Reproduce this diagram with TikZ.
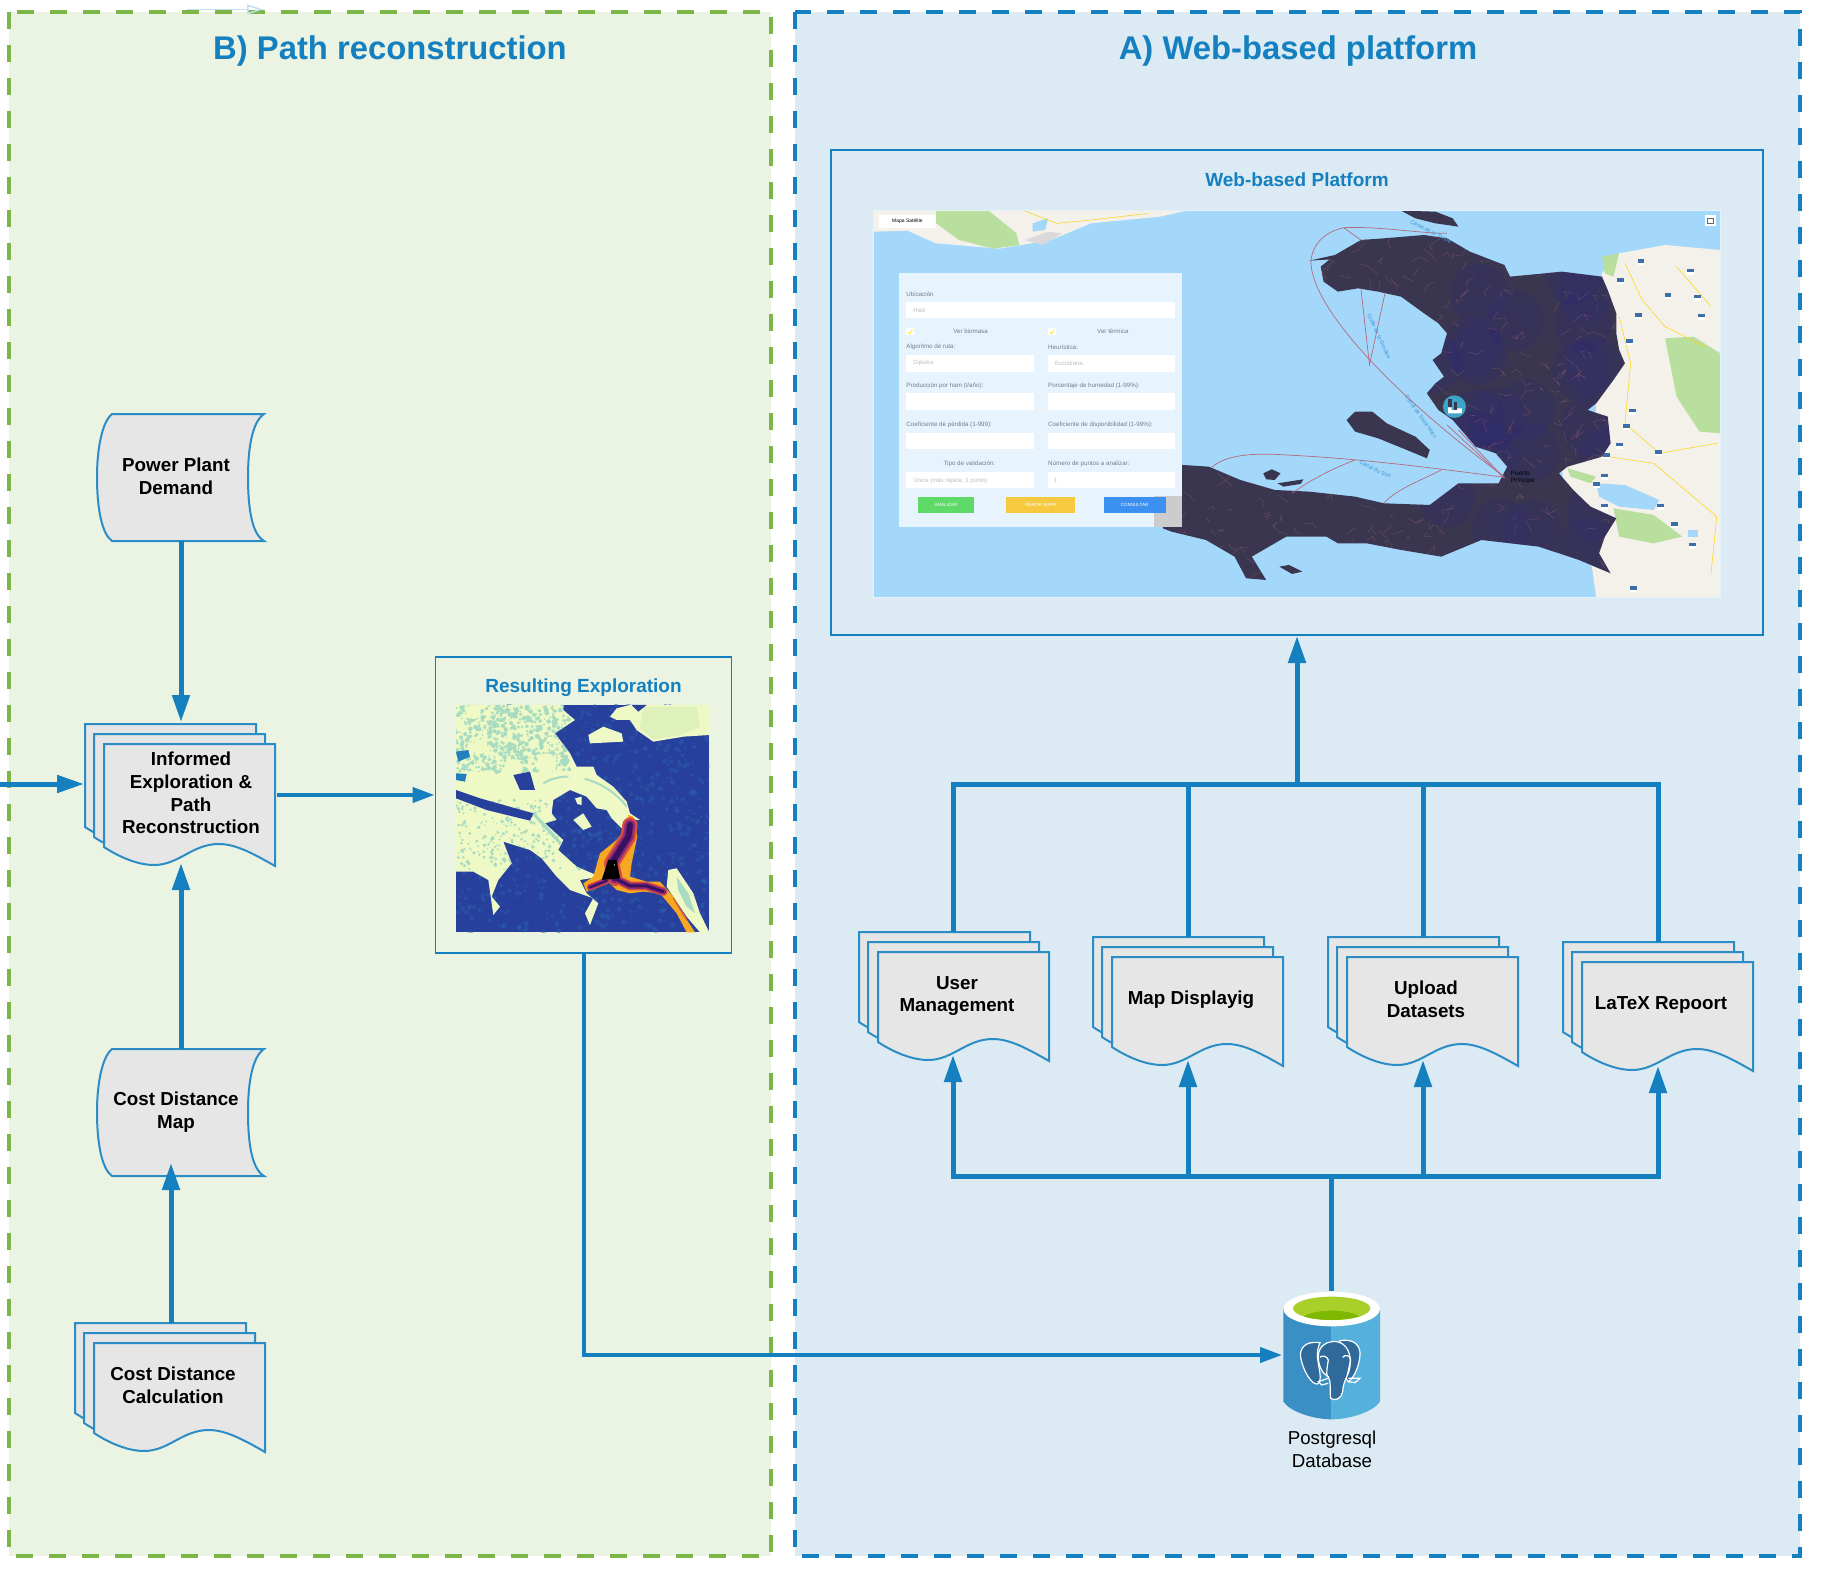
\documentclass[tikz,border=0pt]{standalone}
\usepackage{fontspec}
\setmainfont{Liberation Sans}
\usetikzlibrary{arrows.meta}
\definecolor{lineblue}{HTML}{1480C0}
\definecolor{panelgreen}{HTML}{EBF3E3}
\definecolor{dashgreen}{HTML}{7CB548}
\definecolor{panelblue}{HTML}{DBEAF3}
\definecolor{docfill}{HTML}{E6E6E6}
\definecolor{water}{HTML}{A3D8FB}
\definecolor{isl}{HTML}{3A3650}
\definecolor{land}{HTML}{F3F1EA}
\definecolor{parkgreen}{HTML}{B8DF9E}
\definecolor{route}{HTML}{B56A7C}
\definecolor{formbg}{HTML}{E7F4FE}
\definecolor{formtxt}{HTML}{6F7F88}
\definecolor{ylA}{HTML}{27409B}
\definecolor{ylB}{HTML}{EEF9C6}
\definecolor{ylC}{HTML}{A8DCC0}
\definecolor{ylD}{HTML}{2A5FAE}
\definecolor{plA}{HTML}{F7A823}
\definecolor{plB}{HTML}{D8503C}
\definecolor{plC}{HTML}{8E2A78}
\definecolor{plD}{HTML}{3A1160}
\definecolor{plE}{HTML}{E8682C}
\definecolor{dbL}{HTML}{3A8FC4}
\definecolor{dbR}{HTML}{56B0DC}
\definecolor{limeA}{HTML}{A9CF2A}
\definecolor{limeB}{HTML}{7EB800}
\definecolor{eleph}{HTML}{2F6A9B}
\definecolor{btnG}{HTML}{5FD968}
\definecolor{btnY}{HTML}{F7C93E}
\definecolor{btnB}{HTML}{3C90F0}
\definecolor{marker}{HTML}{3EA4C8}
\definecolor{shield}{HTML}{3C6EA8}
\tikzset{
  panelB/.style={fill=panelgreen,draw=dashgreen,line width=4pt,dash pattern=on 17pt off 16pt},
  panelA/.style={fill=panelblue,draw=lineblue,line width=4pt,dash pattern=on 17pt off 16pt},
  frame/.style={draw=lineblue,line width=1.9pt},
  docstyle/.style={fill=docfill,draw=lineblue!90!white,line width=2pt,line join=miter},
  doctext/.style={font=\fontsize{18.8}{22.7}\selectfont\bfseries,align=center,text=black,inner sep=0pt},
  titletext/.style={font=\fontsize{32.8}{36}\selectfont\bfseries,text=lineblue,inner sep=0pt},
  boxtitle/.style={font=\fontsize{19}{23}\selectfont\bfseries,text=lineblue,inner sep=0pt},
  dbtext/.style={font=\fontsize{18.7}{22.7}\selectfont,align=center,text=black,inner sep=0pt},
  flow/.style={draw=lineblue,line width=5pt,-{Triangle[length=27pt,width=17pt]}},
  flowthin/.style={draw=lineblue,line width=4pt,-{Triangle[length=22pt,width=15pt]}},
  bus/.style={draw=lineblue,line width=5pt,line join=miter},
  flbl/.style={font=\fontsize{6.2}{7}\selectfont,text=formtxt,inner sep=0pt,anchor=west},
  fval/.style={font=\fontsize{6}{7}\selectfont,text=formtxt!50!white,inner sep=0pt,anchor=west},
  fbtn/.style={font=\fontsize{4.6}{6}\selectfont,text=white,inner sep=0pt},
  wlbl/.style={font=\fontsize{5.6}{7}\selectfont,text=lineblue!70!water,inner sep=0pt},
  field/.style={fill=white,draw=none},
}
\newcommand{\docpath}[3]{%
  \begin{scope}[shift={(#1,#2)}]
  \filldraw[docstyle] (0,0) -- (171,0) -- (171,#3+19)
    .. controls (150,#3+7) and (132,#3-3) .. (115,#3-3)
    .. controls (88,#3-3) and (75,#3+18) .. (50,#3+18)
    .. controls (34,#3+18) and (15,#3+10) .. (0,#3) -- cycle;
  \end{scope}}
\newcommand{\docstack}[3]{%
  \docpath{#1-19}{#2-20}{#3}\docpath{#1-10}{#2-10}{#3}\docpath{#1}{#2}{#3}}
\newcommand{\storedshape}[2]{%
  \begin{scope}[shift={(#1,#2)}]
  \filldraw[docstyle] (15,0) -- (167,0) .. controls (155,8) and (151,35) .. (151,63)
    .. controls (151,95) and (155,120) .. (167,127) -- (15,127)
    .. controls (5,120) and (0,95) .. (0,63) .. controls (0,35) and (5,8) .. (15,0) -- cycle;
  \end{scope}}
\begin{document}
\begin{tikzpicture}[x=1pt,y=-1pt]
\useasboundingbox (0,0) rectangle (1821,1573);
\pgfmathsetseed{4217}
% panels
\path[panelB] (9,12) rectangle (771,1556);
\path[panelA] (795,12) rectangle (1800,1556);
\node[titletext] (titleB) at (390,51) {B) Path reconstruction};
\node[titletext] (titleA) at (1298,51) {A) Web-based platform};
% faint stray arrow at the top
\coordinate (strayA) at (187,9.5);
\coordinate (strayB) at (263,9.5);
\draw[draw=lineblue!25!white,line width=1.5pt,-{Triangle[length=16pt,width=10pt,open]}] (strayA) -- (strayB);

% Web platform frame
\node[frame,fill=none,minimum width=932pt,minimum height=485pt,inner sep=0pt] (web) at (1297,392.5) {};
\node[boxtitle] (webtitle) at (1297,180) {Web-based Platform};

% === screenshot of the platform ===
\begin{scope}[shift={(850,190)},x=0.574pt,y=-0.3333pt]
\clip (42,60) rectangle (1516,1222);
\fill[water] (42,60) rectangle (1516,1222);
% Cuba
\fill[land] (42,60) -- (592,60) -- (540,80) -- (420,100) -- (350,150) -- (260,176) -- (150,160) -- (100,122) -- (42,125) -- cycle;
\fill[parkgreen] (150,60) -- (240,60) -- (290,130) -- (295,165) -- (250,176) -- (190,150) -- (150,100) -- cycle;
\fill[water] (318,100) -- (345,85) -- (340,120) -- (318,125) -- cycle;
\fill[gray!30] (305,150) -- (345,125) -- (370,130) -- (335,165) -- cycle;
\draw[yellow!70!orange,line width=.5pt] (300,60) -- (360,100) -- (420,90) -- (520,70);
% Dominican side
\fill[land] (1516,180) -- (1420,165) -- (1340,190) -- (1310,250) -- (1300,400) -- (1300,660) -- (1240,830) -- (1250,980) -- (1290,1100) -- (1300,1222) -- (1516,1222) -- cycle;
\fill[parkgreen] (1420,445) -- (1470,440) -- (1516,490) -- (1516,730) -- (1480,725) -- (1440,620) -- cycle;
\fill[parkgreen] (1310,200) -- (1340,190) -- (1330,260) -- (1315,250) -- cycle;
\fill[parkgreen] (1330,955) -- (1400,975) -- (1450,1040) -- (1400,1060) -- (1340,1040) -- cycle;
\fill[parkgreen] (1250,835) -- (1300,860) -- (1290,880) -- (1255,860) -- cycle;
\fill[water] (1300,880) -- (1350,885) -- (1410,930) -- (1400,960) -- (1340,950) -- (1305,920) -- cycle;
\fill[water] (1460,1020) -- (1478,1020) -- (1478,1040) -- (1460,1040) -- cycle;
\draw[yellow!75!orange,line width=.5pt] (1350,220) -- (1380,330) -- (1420,410) -- (1490,470);
\draw[yellow!75!orange,line width=.5pt] (1340,380) -- (1360,520) -- (1350,700) -- (1410,790) -- (1510,760);
\draw[yellow!75!orange,line width=.5pt] (1320,800) -- (1400,820) -- (1510,980) -- (1500,1150);
\draw[yellow!75!orange,line width=.5pt] (1440,230) -- (1500,350);
\foreach \sx/\sy in {1378/216,1465/245,1342/274,1425/318,1477/323,1373/378,1484/380,1358/457,1335/500,1363/665,1352/712,1340/767,1408/790,1315/860,1300/885,1315/950,1412/950,1436/1005,1468/1067,1365/1198,1318/798}
  {\fill[shield] (\sx-6,\sy-9) rectangle (\sx+6,\sy+9);
   \fill[white] (\sx-6,\sy+2) rectangle (\sx+6,\sy+9);}
% Haiti
\path[save path=\haitipath] (820,230) -- (845,195) -- (890,150) -- (930,145) -- (1000,135) -- (1040,145) -- (1080,185) -- (1140,225) -- (1150,260) -- (1240,245) -- (1310,260) -- (1320,300) -- (1335,370) -- (1335,430) -- (1340,480) -- (1350,520) -- (1330,570) -- (1300,640) -- (1285,660) -- (1320,680) -- (1325,760) -- (1310,800) -- (1250,830) -- (1235,850) -- (1260,900) -- (1290,950) -- (1335,985) -- (1315,1040) -- (1305,1090) -- (1325,1150) -- (1270,1110) -- (1200,1070) -- (1100,1050) -- (1030,1100) -- (960,1080) -- (900,1060) -- (850,1060) -- (830,1040) -- (760,1040) -- (700,1100) -- (725,1170) -- (690,1165) -- (670,1100) -- (620,1050) -- (560,1025) -- (545,1015) -- (560,830) -- (580,825) -- (625,830) -- (680,870) -- (740,900) -- (800,905) -- (880,920) -- (930,940) -- (1010,945) -- (1060,880) -- (1130,880) -- (1145,830) -- (1125,790) -- (1090,770) -- (1050,690) -- (1025,660) -- (1005,610) -- (1020,580) -- (1035,560) -- (1015,510) -- (1030,490) -- (1040,430) -- (1025,400) -- (1000,370) -- (960,320) -- (920,305) -- (885,295) -- (850,305) -- (825,275) -- cycle;
\fill[isl,use path=\haitipath];
\begin{scope}
\clip[use path=\haitipath];
\foreach \i in {1,...,24}{
  \pgfmathsetmacro\ax{950+rnd*380}
  \pgfmathsetmacro\ay{200+rnd*880}
  \fill[blue!35!isl,opacity=.14] (\ax,\ay) ellipse (50 and 90);}
\foreach \i in {1,...,420}{
  \pgfmathsetmacro\ax{550+rnd*800}
  \pgfmathsetmacro\ay{140+rnd*1030}
  \pgfmathsetmacro\bx{\ax+(rnd-.5)*34}
  \pgfmathsetmacro\by{\ay+(rnd-.5)*50}
  \pgfmathsetmacro\cx{\bx+(rnd-.5)*30}
  \pgfmathsetmacro\cy{\by+(rnd-.5)*44}
  \draw[route!50!isl,line width=.3pt] (\ax,\ay) -- (\bx,\by) -- (\cx,\cy);}
\end{scope}
\fill[isl] (865,690) -- (880,665) -- (910,665) -- (935,700) -- (985,740) -- (1010,780) -- (1005,805) -- (970,780) -- (920,745) -- (880,725) -- cycle;
\fill[isl] (960,62) -- (1020,65) -- (1050,85) -- (1060,110) -- (1020,100) -- (985,85) -- cycle;
\fill[isl] (720,850) -- (735,838) -- (750,850) -- (740,870) -- (725,868) -- cycle;
\fill[isl] (745,880) -- (790,868) -- (785,882) -- (755,890) -- cycle;
\fill[isl] (748,1130) -- (765,1125) -- (788,1145) -- (770,1152) -- cycle;
\fill[isl] (800,212) -- (845,195) -- (840,208) -- cycle;
% routes
\begin{scope}[route,line width=.7pt]
\draw (1140,860) .. controls (950,620) and (800,350) .. (803,210) .. controls (808,150) and (835,122) .. (860,113) .. controls (920,108) and (990,130) .. (1040,130);
\draw (860,113) -- (890,150);
\draw (890,295) -- (905,525) -- (932,310);
\draw (1140,865) -- (1040,705);
\draw (1140,865) -- (1060,720);
\draw (630,832) .. controls (655,795) and (700,788) .. (760,795) .. controls (880,805) and (1000,830) .. (1140,862);
\draw (770,910) .. controls (810,860) and (850,830) .. (880,810);
\draw (930,940) .. controls (950,900) and (990,875) .. (1030,840);
\end{scope}
% water labels
\node[wlbl,rotate=-27] (wl1) at (1012,125) {Canal de la Tortue};
\node[wlbl,rotate=-65] (wl2) at (922,440) {Golfe de la Gonâve};
\node[wlbl,rotate=-55] (wl3) at (995,680) {Canal de Saint-Marc};
\node[wlbl,rotate=-25] (wl4) at (915,838) {Canal du Sud};
\node[font=\fontsize{6.5}{7}\selectfont,text=black,inner sep=0pt,align=left] (pap) at (1172,862) {Puerto\\Príncipe};
% factory marker
\fill[marker] (1053,650) ellipse (20 and 34);
\fill[white] (1042,670) -- (1042,652) -- (1048,652) -- (1048,660) -- (1056,660) -- (1056,655) -- (1066,655) -- (1066,670) -- cycle;
\fill[isl] (1042,652) rectangle (1048,628);
\fill[isl] (1052,660) rectangle (1058,635);
% map controls
\fill[white] (50,75) rectangle (150,115);
\node[font=\fontsize{5}{6}\selectfont,text=black,inner sep=0pt] (mapctl) at (100,95) {Mapa Satélite};
\fill[white] (1490,76) rectangle (1508,108);
\draw[black!60,line width=.5pt] (1494,84) rectangle (1504,100);
% form
\fill[gray!40] (530,830) rectangle (578,1010);
\fill[formbg] (86,248) rectangle (578,1010);
\fill[gray!40] (530,918) rectangle (578,1010);
\fill[field] (98,335) rectangle (566,385);
\fill[field] (98,495) rectangle (320,545);
\fill[field] (345,495) rectangle (566,545);
\fill[field] (98,610) rectangle (320,660);
\fill[field] (345,610) rectangle (566,660);
\fill[field] (98,728) rectangle (320,778);
\fill[field] (345,728) rectangle (566,778);
\fill[field] (98,847) rectangle (320,895);
\fill[field] (345,847) rectangle (566,895);
\fill[white] (98,414) rectangle (112,436);
\fill[white] (345,414) rectangle (358,436);
\draw[yellow!80!orange,line width=.6pt] (101,426) -- (104,432) -- (109,418);
\draw[yellow!80!orange,line width=.6pt] (348,426) -- (351,432) -- (356,418);
\node[flbl] (f1) at (98,312) {Ubicación};
\node[fval] (f2) at (110,360) {Haiti};
\node[flbl,anchor=center] (f3) at (210,424) {Ver biomasa};
\node[flbl,anchor=center] (f4) at (458,424) {Ver térmica};
\node[flbl] (f5) at (98,471) {Algoritmo de ruta:};
\node[flbl] (f6) at (345,471) {Heurística:};
\node[fval] (f7) at (110,520) {Dijkstra};
\node[fval] (f8) at (357,520) {Euclidiana};
\node[flbl] (f9) at (98,587) {Producción por ham (t/año):};
\node[flbl] (f10) at (345,587) {Porcentaje de humedad (1-99\%):};
\node[flbl] (f11) at (98,705) {Coeficiente de pérdida (1-999):};
\node[flbl] (f12) at (345,705) {Coeficiente de disponibilidad (1-99\%):};
\node[flbl,anchor=center] (f13) at (208,823) {Tipo de validación:};
\node[flbl] (f14) at (345,823) {Número de puntos a analizar:};
\node[fval] (f15) at (110,872) {Única (más rápida, 1 punto)};
\node[fval] (f16) at (355,872) {1};
\fill[btnG] (118,920) rectangle (216,970);
\fill[btnY] (272,920) rectangle (392,970);
\fill[btnB] (442,920) rectangle (550,970);
\node[fbtn] (b1) at (167,945) {ANALIZAR};
\node[fbtn] (b2) at (332,945) {AÑADIR MAPA};
\node[fbtn] (b3) at (496,945) {CONSULTAR};
\end{scope}
\draw[white!70!water,line width=.8pt] (873.5,210) rectangle (1720,597.5);

% Resulting exploration frame
\node[frame,fill=none,minimum width=296pt,minimum height=296pt,inner sep=0pt] (result) at (583.5,805) {};
\node[boxtitle] (resulttitle) at (583.5,688) {Resulting Exploration};
\begin{scope}[shift={(430,650)},x=0.3333pt,y=-0.3333pt]
\clip (78,165) rectangle (838,847);
\fill[ylA] (78,165) rectangle (838,847);
\foreach \i in {1,...,800}{
  \pgfmathsetmacro\ax{78+rnd*760}
  \pgfmathsetmacro\ay{165+rnd*682}
  \pgfmathsetmacro\rr{3+rnd*5}
  \fill[ylD,opacity=.5] (\ax,\ay) circle (\rr);}
\path[save path=\landpath] (78,165) -- (400,165) -- (400,180) -- (435,210) -- (375,250) -- (420,310) -- (440,350) -- (490,350) -- (500,375) -- (550,410) -- (590,455) -- (600,490) -- (630,510) -- (590,510) -- (580,540) -- (545,505) -- (530,480) -- (500,475) -- (470,440) -- (420,420) -- (370,450) -- (365,490) -- (380,510) -- (345,520) -- (400,570) -- (385,600) -- (440,650) -- (510,680) -- (450,690) -- (470,730) -- (505,760) -- (480,825) -- (465,790) -- (490,745) -- (420,720) -- (380,680) -- (335,625) -- (300,600) -- (220,575) -- (245,640) -- (205,690) -- (185,740) -- (210,770) -- (190,795) -- (175,690) -- (130,665) -- (78,665) -- cycle;
\fill[ylB,use path=\landpath];
\begin{scope}
\clip[use path=\landpath];
\foreach \i in {1,...,650}{
  \pgfmathsetmacro\ax{78+rnd*340}
  \pgfmathsetmacro\ay{165+rnd*200}
  \pgfmathsetmacro\rr{2+rnd*5}
  \fill[ylC] (\ax,\ay) circle (\rr);}
\foreach \i in {1,...,260}{
  \pgfmathsetmacro\ax{78+rnd*320}
  \pgfmathsetmacro\ay{450+rnd*210}
  \pgfmathsetmacro\rr{2+rnd*4}
  \fill[ylC] (\ax,\ay) circle (\rr);}
\draw[ylC,line width=2pt] (340,400) .. controls (420,350) and (540,400) .. (590,470);
\draw[ylC,line width=3pt] (310,490) -- (400,590) -- (450,660);
\foreach \bx/\by/\br in {130/185/22,90/220/14,150/290/22,350/340/30,250/355/28,440/380/25,130/510/22,180/540/20,300/660/12}
  {\fill[ylB] (\bx,\by) circle (\br);}
\end{scope}
\fill[ylA] (78,420) -- (150,445) -- (310,490) -- (300,512) -- (170,480) -- (78,445) -- cycle;
\fill[ylA] (250,375) -- (300,365) -- (315,420) -- (270,420) -- cycle;
\fill[ylD!80!cyan] (78,305) -- (115,300) -- (120,320) -- (85,335) -- cycle;
\fill[ylD!80!cyan] (78,370) -- (110,372) -- (105,395) -- (78,390) -- cycle;
% pale spots
\fill[ylB] (540,200) -- (560,175) -- (600,165) -- (838,165) -- (838,255) -- (760,260) -- (670,275) -- (620,240) -- (600,210) -- (560,210) -- cycle;
\fill[ylB!70!parkgreen] (640,170) -- (800,170) -- (810,230) -- (750,255) -- (670,268) -- (630,235) -- cycle;
\fill[ylA] (605,165) -- (650,165) -- (625,185) -- cycle;
\fill[ylB] (475,255) -- (520,230) -- (575,250) -- (580,275) -- (480,280) -- cycle;
\fill[ylB] (430,510) -- (460,490) -- (485,530) -- (460,540) -- cycle;
\fill[ylB] (435,445) -- (455,440) -- (455,465) -- (442,462) -- cycle;
\fill[ylB] (715,660) -- (740,655) -- (790,730) -- (810,790) -- (838,847) -- (810,847) -- (770,800) -- (710,710) -- cycle;
\fill[ylC] (740,680) -- (775,730) -- (795,790) -- (770,770) -- (745,720) -- cycle;
% accumulated-cost plume
\fill[plA] (595,495) -- (610,500) -- (622,560) -- (605,640) -- (600,680) -- (650,695) -- (690,695) -- (730,740) -- (745,770) -- (795,847) -- (770,847) -- (740,790) -- (690,730) -- (640,725) -- (600,730) -- (560,720) -- (530,690) -- (470,725) -- (460,700) -- (490,680) -- (510,610) -- (560,570) -- (590,530) -- cycle;
\begin{scope}[line join=round,line cap=round]
\foreach \w/\tw/\lw/\c in {46/26/20/plB,32/18/13/plC,18/9/6/plD}{
  \draw[\c,line width=\w*.3333pt] (600,525) -- (595,560) -- (570,600) -- (545,640) -- (555,685);
  \draw[\c,line width=\tw*.3333pt] (555,685) -- (600,708) -- (650,708) -- (700,725);
  \draw[\c,line width=\lw*.3333pt] (480,712) -- (530,692);
}
\draw[plE,line width=1.5pt] (730,745) -- (770,810);
\fill[black] (535,630) -- (560,630) -- (570,685) -- (515,690) -- cycle;
\fill[white] (553,645) circle (2);
\end{scope}
\end{scope}

% document shapes
\storedshape{97}{414}
\node[doctext] (power) at (176,476) {Power Plant\\Demand};
\storedshape{97}{1049}
\node[doctext] (costmap) at (176,1112) {Cost Distance\\Map};
\docstack{104}{744}{103}
\node[doctext] (informed) at (191,793) {Informed\\Exploration \&\\Path\\Reconstruction};
\docstack{94}{1343}{90}
\node[doctext] (costcalc) at (173,1385) {Cost Distance\\Calculation};
\docstack{878}{952}{90}
\node[doctext] (user) at (957,996) {User\\Management};
\docstack{1112}{957}{90}
\node[doctext] (mapd) at (1191,1000) {Map Displayig};
\docstack{1347}{957}{90}
\node[doctext] (upload) at (1426,999) {Upload\\Datasets};
\docstack{1582}{962}{90}
\node[doctext] (latex) at (1661,1005) {LaTeX Repoort};

% database
\begin{scope}[shift={(1240,1270)},x=0.3333pt,y=-0.3333pt]
\fill[dbL] (130,115) -- (130,395) .. controls (150,425) and (220,448) .. (275,448) -- (275,115) -- cycle;
\fill[dbR] (275,115) -- (420,115) -- (420,395) .. controls (400,425) and (330,448) .. (275,448) -- cycle;
\fill[white] (275,117) ellipse (145 and 52);
\fill[limeA] (275,115) ellipse (116 and 35);
\begin{scope}
\clip (275,115) ellipse (116 and 35);
\fill[limeB] (275,150) ellipse (90 and 28);
\end{scope}
\begin{scope}[draw=white,fill=eleph,line width=1.2pt]
\filldraw (240,218) .. controls (195,212) and (178,235) .. (182,262) .. controls (188,300) and (215,345) .. (232,342) .. controls (250,335) and (235,290) .. (232,260) .. controls (232,240) and (235,230) .. (240,218) -- cycle;
\filldraw (300,212) .. controls (340,205) and (362,225) .. (360,255) .. controls (358,285) and (345,320) .. (325,335) -- (300,300) -- cycle;
\filldraw (235,260) .. controls (235,225) and (265,212) .. (290,215) .. controls (320,220) and (335,250) .. (330,290) .. controls (325,320) and (310,330) .. (308,365) .. controls (305,385) and (285,395) .. (272,385) .. controls (268,360) and (275,340) .. (265,320) .. controls (245,310) and (235,285) .. (235,260) -- cycle;
\draw (240,262) .. controls (245,255) and (262,258) .. (265,270) .. controls (262,290) and (258,305) .. (262,322);
\draw (308,262) .. controls (315,252) and (332,256) .. (332,270) -- (322,315);
\draw (265,325) -- (235,335) -- (245,345) -- (265,340);
\draw (325,325) -- (360,325) -- (345,338) -- (325,335);
\end{scope}
\end{scope}
\node[dbtext] (dblabel) at (1332,1449) {Postgresql\\Database};

% connector anchors
\coordinate (db) at (1331.5,1291);
\coordinate (dbIn) at (1282,1355);
\coordinate (leftIn) at (0,784);
\coordinate (powerB) at (181,541);
\coordinate (informedT) at (181,722);
\coordinate (informedB) at (181,863);
\coordinate (informedL) at (84,784);
\coordinate (informedR) at (277,795);
\coordinate (costmapT) at (181,1049);
\coordinate (costmapB) at (171,1163);
\coordinate (costcalcT) at (171,1323);
\coordinate (userT) at (953,932);
\coordinate (mapdT) at (1188,937);
\coordinate (uploadT) at (1423,937);
\coordinate (latexT) at (1658,942);
\coordinate (userB) at (953,1055);
\coordinate (mapdB) at (1188,1060);
\coordinate (uploadB) at (1423,1060);
\coordinate (latexB) at (1658,1066);
\coordinate (webB) at (1297,636);
\coordinate (junction) at (1297,784);
\coordinate (dbJoin) at (1331.5,1176);

% connectors
\draw[flow] (powerB) -- (informedT);
\draw[flow] (costmapT) -- (informedB);
\draw[flow] (costcalcT) -- (costmapB);
\draw[flow] (leftIn) -- (informedL);
\draw[flowthin] (informedR) -- (informedR -| result.west);
\draw[flowthin] (result.south) |- (dbIn);
\draw[flow] (junction) -- (webB);
\draw[bus] (userT) |- (latexT |- junction) -- (latexT);
\draw[bus] (mapdT) -- (mapdT |- junction);
\draw[bus] (uploadT) -- (uploadT |- junction);
\draw[bus] (db) -- (dbJoin);
\draw[flow] (dbJoin) -| (userB);
\draw[flow] (dbJoin) -| (latexB);
\draw[flow] (mapdB |- dbJoin) -- (mapdB);
\draw[flow] (uploadB |- dbJoin) -- (uploadB);
\end{tikzpicture}
\end{document}
